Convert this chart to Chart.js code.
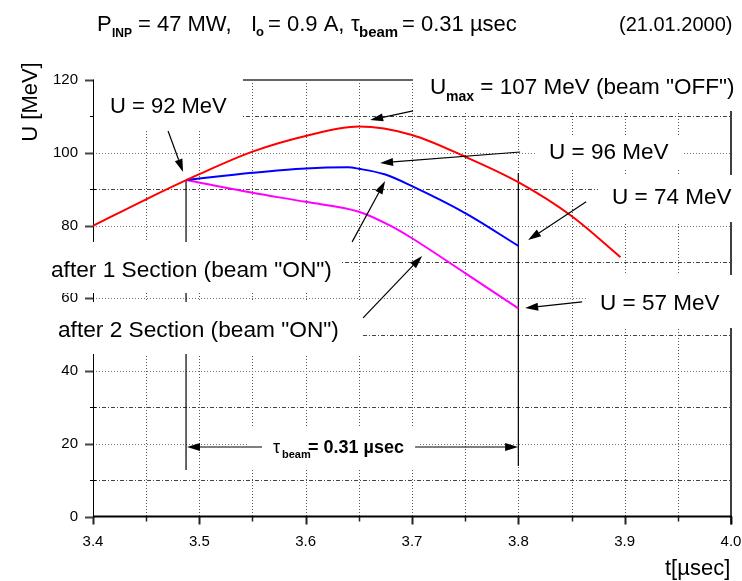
<!DOCTYPE html>
<html>
<head>
<meta charset="utf-8">
<script src="https://cdn.jsdelivr.net/npm/chart.js@4.4.0/dist/chart.umd.min.js"></script>
<style>
  html, body { margin: 0; padding: 0; background: #fff; }
</style>
</head>
<body>
<canvas id="chart" width="742" height="581"></canvas>
<script>
// beam "OFF"
const tOff = [3.4, 3.45, 3.5, 3.55, 3.6, 3.65, 3.7, 3.75, 3.8, 3.85, 3.896];
const uOff = [79.9, 87.2, 94.1, 100.3, 104.6, 107.2, 104.9, 98.9, 91.9, 82.6, 71.3];
// after 1 section (beam "ON")
const tSec1 = [3.4875, 3.55, 3.6, 3.64, 3.65, 3.675, 3.7, 3.75, 3.8];
const uSec1 = [92.5, 94.5, 95.7, 96.0, 95.6, 94.0, 90.8, 83.4, 74.4];
// after 2 section (beam "ON")
const tSec2 = [3.4875, 3.55, 3.6, 3.65, 3.68, 3.7, 3.75, 3.8];
const uSec2 = [92.5, 89.0, 86.5, 83.8, 79.9, 76.5, 66.9, 57.2];

const tLabels = ["3.4", "3.5", "3.6", "3.7", "3.8", "3.9", "4.0"];
const uLabels = ["0", "20", "40", "60", "80", "100", "120"];

const R = "px 'Liberation Sans', Arial, sans-serif";
const font = (size, bold) => (bold ? "bold " : "") + size + R;

function toPoints(ts, us) {
    return ts.map((t, i) => ({ x: t, y: us[i] }));
}

// labels with white backing boxes (canvas px)
const boxes = [
    [94, 68, 243, 130],
    [413, 58, 742, 111],
    [537, 135, 683, 170],
    [598, 175, 742, 222],
    [588, 275, 742, 328],
    [38, 242, 342, 293],
    [45, 302, 362, 354],
    [248, 428, 418, 470]
];

const texts = [
    [[110, 113, "U = 92 MeV", font(22)]],
    [[430, 94, "U", font(22.5)], [446, 101, "max", font(14, true)], [474, 94, " = 107 MeV (beam \"OFF\")", font(22.5)]],
    [[549, 159, "U = 96 MeV", font(22.5)]],
    [[612, 204, "U = 74 MeV", font(22.5)]],
    [[600, 310, "U = 57 MeV", font(22.5)]],
    [[51, 277, "after 1 Section (beam \"ON\")", font(22.7)]],
    [[58, 337, "after 2 Section (beam \"ON\")", font(22.7)]],
    [[273, 453, "\u03c4", font(18)], [282, 458, "beam", font(11, true)], [308, 453, "= 0.31 \u00b5sec", font(18, true)]],
    // title
    [[97, 31, "P", font(22)], [112, 37, "INP", font(12, true)], [138, 31, "= 47 MW,", font(22)],
     [251, 31, "I", font(22)], [256, 36, "o", font(13, true)], [268, 31, "= 0.9 A,", font(22)],
     [351, 31, "\u03c4", font(22)], [359, 37, "beam", font(15, true)], [402, 31, "= 0.31 \u00b5sec", font(22)],
     [619, 31, "(21.01.2000)", font(20)]],
    [[665, 575, "t[\u00b5sec]", font(22)]]
];

// arrows in data units: [t tail, u tail, t tip, u tip]
const arrows = [
    [3.4706, 106.0, 3.4847, 94.7],
    [3.701, 111.5, 3.6606, 109.0],
    [3.8017, 100.2, 3.670, 97.2],
    [3.6437, 75.5, 3.6747, 92.2],
    [3.654, 54.6, 3.7095, 71.6],
    [3.8638, 86.5, 3.8092, 76.0],
    [3.860, 59.0, 3.8064, 57.3],
    [3.559, 19.1, 3.4884, 19.1],
    [3.7029, 19.1, 3.7998, 19.1]
];

// beam window markers: [t, u top, u bottom]
const markers = [
    [3.4875, 92.5, 12.8],
    [3.8, 94.4, 13.9]
];

function line(ctx, x0, y0, x1, y1) {
    ctx.beginPath();
    ctx.moveTo(x0, y0);
    ctx.lineTo(x1, y1);
    ctx.stroke();
}

const decor = {
    id: "decor",
    beforeDatasetsDraw(chart) {
        const ctx = chart.ctx;
        const a = chart.chartArea;
        const xs = chart.scales.x;
        const ys = chart.scales.y;
        ctx.save();
        ctx.lineWidth = 1;

        xs.ticks.forEach(t => {
            const px = Math.round(xs.getPixelForValue(t.value)) + 0.5;
            const major = tLabels.includes(t.value.toFixed(2).slice(0, -1)) && t.value.toFixed(2).endsWith("0");
            if (t.value > 3.401 && t.value < 3.999) {
                ctx.setLineDash([1, 2]);
                ctx.strokeStyle = "#555";
                line(ctx, px, a.top, px, a.bottom);
            }
            ctx.setLineDash([]);
            ctx.strokeStyle = "#222";
            ctx.lineWidth = major ? 2 : 1.5;
            line(ctx, px, a.bottom, px, a.bottom + (major ? 8 : 5));
            ctx.lineWidth = 1;
        });

        ys.ticks.forEach(t => {
            const py = Math.round(ys.getPixelForValue(t.value)) + 0.5;
            const major = uLabels.includes(String(Math.round(t.value)));
            if (t.value > 0.5 && t.value < 119.5) {
                ctx.setLineDash(major ? [1, 2] : [4, 2, 1, 2]);
                ctx.strokeStyle = major ? "#777" : "#444";
                line(ctx, a.left, py, a.right, py);
            }
            ctx.setLineDash([]);
            if (major) {
                ctx.strokeStyle = "#444";
                ctx.lineWidth = 2;
                line(ctx, a.left - 8, py, a.left, py);
                ctx.lineWidth = 1;
            } else {
                ctx.strokeStyle = "#000";
                line(ctx, a.left - 3, py, a.left + 3, py);
            }
        });

        // frame
        ctx.setLineDash([]);
        ctx.strokeStyle = "#666";
        ctx.lineWidth = 2;
        line(ctx, a.left, a.top, a.right, a.top);
        ctx.strokeStyle = "#000";
        ctx.lineWidth = 1.5;
        line(ctx, a.right, a.top, a.right, a.bottom + 8);
        ctx.lineWidth = 1;
        line(ctx, a.left + 0.5, a.top, a.left + 0.5, a.bottom);
        ctx.lineWidth = 2;
        line(ctx, a.left, a.bottom, a.right + 1, a.bottom);

        // beam window
        ctx.lineWidth = 1.2;
        markers.forEach(m => {
            const px = xs.getPixelForValue(m[0]);
            line(ctx, px, ys.getPixelForValue(m[1]), px, ys.getPixelForValue(m[2]));
        });
        ctx.restore();
    },
    afterDraw(chart) {
        const ctx = chart.ctx;
        const xs = chart.scales.x;
        const ys = chart.scales.y;
        ctx.save();
        ctx.fillStyle = "#fff";
        boxes.forEach(b => ctx.fillRect(b[0], b[1], b[2] - b[0], b[3] - b[1]));

        ctx.fillStyle = "#000";
        ctx.textBaseline = "alphabetic";
        ctx.textAlign = "left";
        texts.forEach(group => group.forEach(s => {
            ctx.font = s[3];
            ctx.fillText(s[2], s[0], s[1]);
        }));

        // y axis title
        ctx.save();
        ctx.translate(31, 102);
        ctx.rotate(-Math.PI / 2);
        ctx.textAlign = "center";
        ctx.textBaseline = "middle";
        ctx.font = font(22);
        ctx.fillText("U [MeV]", 0, 0);
        ctx.restore();

        // arrows
        ctx.strokeStyle = "#000";
        ctx.lineWidth = 1.2;
        arrows.forEach(ar => {
            const x0 = xs.getPixelForValue(ar[0]), y0 = ys.getPixelForValue(ar[1]);
            const x1 = xs.getPixelForValue(ar[2]), y1 = ys.getPixelForValue(ar[3]);
            const ang = Math.atan2(y1 - y0, x1 - x0);
            const len = 13, hw = 4;
            const bx = x1 - len * Math.cos(ang), by = y1 - len * Math.sin(ang);
            line(ctx, x0, y0, bx, by);
            ctx.beginPath();
            ctx.moveTo(x1, y1);
            ctx.lineTo(bx + hw * Math.sin(ang), by - hw * Math.cos(ang));
            ctx.lineTo(bx - hw * Math.sin(ang), by + hw * Math.cos(ang));
            ctx.closePath();
            ctx.fill();
        });
        ctx.restore();
    }
};

new Chart(document.getElementById("chart").getContext("2d"), {
    type: "scatter",
    data: {
        datasets: [
            { label: "beam OFF", data: toPoints(tOff, uOff), borderColor: "#ff0000" },
            { label: "after 1 Section", data: toPoints(tSec1, uSec1), borderColor: "#0000ff" },
            { label: "after 2 Section", data: toPoints(tSec2, uSec2), borderColor: "#ff00ff" }
        ].map(d => Object.assign(d, {
            showLine: true,
            borderWidth: 2,
            pointRadius: 0,
            cubicInterpolationMode: "monotone"
        }))
    },
    options: {
        responsive: false,
        animation: false,
        devicePixelRatio: 1,
        layout: { padding: { top: 80, right: 11, left: 0, bottom: 0 } },
        plugins: { legend: { display: false }, tooltip: { enabled: false } },
        scales: {
            x: {
                type: "linear",
                min: 3.4,
                max: 4.0,
                grid: { display: false, drawTicks: false },
                border: { display: false },
                ticks: {
                    stepSize: 0.05,
                    autoSkip: false,
                    maxRotation: 0,
                    padding: 16,
                    color: "#000",
                    font: { family: "'Liberation Sans', Arial, sans-serif", size: 15 },
                    callback: v => {
                        const s = v.toFixed(2).slice(0, -1);
                        return v.toFixed(2).endsWith("0") && tLabels.includes(s) ? s : "";
                    }
                },
                afterFit: s => { s.height = 64.5; s.paddingLeft = 0; s.paddingRight = 0; }
            },
            y: {
                min: 0,
                max: 120,
                grid: { display: false, drawTicks: false },
                border: { display: false },
                ticks: {
                    stepSize: 10,
                    autoSkip: false,
                    padding: 15,
                    color: "#000",
                    font: { family: "'Liberation Sans', Arial, sans-serif", size: 15 },
                    callback: v => uLabels.includes(String(Math.round(v))) ? String(Math.round(v)) : ""
                },
                afterFit: s => { s.width = 93; }
            }
        }
    },
    plugins: [decor]
});
</script>
</body>
</html>
